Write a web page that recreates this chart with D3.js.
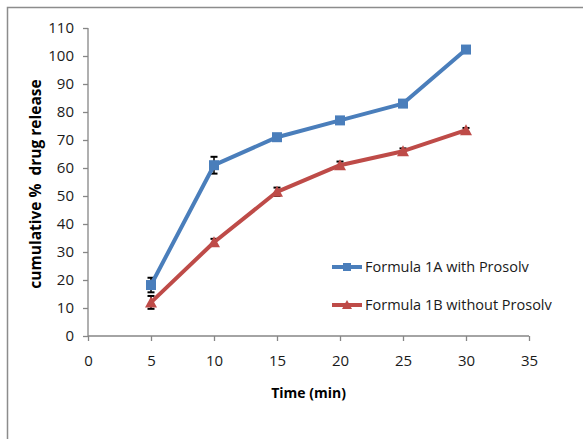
<!DOCTYPE html>
<html>
<head>
<meta charset="utf-8">
<script src="https://cdn.jsdelivr.net/npm/d3@7"></script>
<style>
  body { margin: 0; background: #fff; }
  text { font-family: "Open Sans", sans-serif; }
</style>
</head>
<body>
<div id="chart"></div>
<script>
// data
var times = [5, 10, 15, 20, 25, 30];
var withProsolv = [18.2, 61, 71, 77, 83, 102.3];
var withProsolvErr = [2.6, 3, 0.5, 0.5, 0.5, 0.5];
var withoutProsolv = [12, 33.5, 51.5, 61, 66, 73.5];
var withoutProsolvErr = [2.3, 1.2, 1.5, 1.3, 1, 0.8];
var seriesNames = ["Formula 1A with Prosolv", "Formula 1B without Prosolv"];
var xTicks = [0, 5, 10, 15, 20, 25, 30, 35];
var yTicks = [0, 10, 20, 30, 40, 50, 60, 70, 80, 90, 100, 110];

var width = 583, height = 439;
var svg = d3.select("#chart").append("svg")
  .attr("width", width).attr("height", height);

// outer chart frame (runs off the right and bottom edges)
svg.append("rect")
  .attr("x", 7.5).attr("y", 7.5)
  .attr("width", 600).attr("height", 460)
  .attr("fill", "none").attr("stroke", "#8c8c8c").attr("stroke-width", 1.5);

var x = d3.scaleLinear().domain([0, 35]).range([88, 529]);
var y = d3.scaleLinear().domain([0, 110]).range([336, 28]);

var axisColor = "#868686";

// y axis
var yAxis = svg.append("g")
  .attr("transform", "translate(" + x(0) + ",0)")
  .call(d3.axisLeft(y).tickValues(yTicks).tickSize(5).tickPadding(9));
// x axis
var xAxis = svg.append("g")
  .attr("transform", "translate(0," + y(0) + ")")
  .call(d3.axisBottom(x).tickValues(xTicks).tickSize(5).tickPadding(14));

[xAxis, yAxis].forEach(function(a) {
  a.selectAll("path, line").attr("stroke", axisColor).attr("stroke-width", 1.3);
  a.selectAll("text").attr("fill", "#1a1a1a").style("font-size", "15px");
});
xAxis.select(".domain").attr("d", "M" + x(0) + ",0H" + x(35));
yAxis.select(".domain").attr("d", "M0," + y(0) + "V" + y(110));

// axis titles
svg.append("text")
  .attr("x", x(17.5)).attr("y", 398)
  .attr("text-anchor", "middle")
  .style("font-size", "14px").style("font-weight", "bold")
  .text("Time (min)");

svg.append("text")
  .attr("transform", "translate(41,184) rotate(-90)")
  .attr("text-anchor", "middle")
  .style("font-size", "15.5px").style("font-weight", "bold")
  .text("cumulative %\u00A0\u00A0drug release");

var series = [
  { name: seriesNames[0], vals: withProsolv, err: withProsolvErr, color: "#4a7ebb", shape: "square" },
  { name: seriesNames[1], vals: withoutProsolv, err: withoutProsolvErr, color: "#be4b48", shape: "triangle" }
];

var line = d3.line()
  .x(function(d) { return x(d.t); })
  .y(function(d) { return y(d.v); });

function marker(g, shape, color) {
  if (shape === "square") {
    g.append("rect").attr("x", -5).attr("y", -5).attr("width", 10).attr("height", 10)
      .attr("fill", color);
  } else {
    g.append("path").attr("d", "M0,-6L6,5L-6,5Z").attr("fill", color);
  }
}

series.forEach(function(s) {
  var pts = times.map(function(t, i) { return { t: t, v: s.vals[i], e: s.err[i] }; });

  // error bars
  var eb = svg.append("g");
  pts.forEach(function(d) {
    eb.append("line")
      .attr("x1", x(d.t)).attr("x2", x(d.t))
      .attr("y1", y(d.v - d.e)).attr("y2", y(d.v + d.e))
      .attr("stroke", "#000").attr("stroke-width", 1.5);
    [d.v - d.e, d.v + d.e].forEach(function(v) {
      eb.append("line")
        .attr("x1", x(d.t) - 3.5).attr("x2", x(d.t) + 3.5)
        .attr("y1", y(v)).attr("y2", y(v))
        .attr("stroke", "#000").attr("stroke-width", 2);
    });
  });

  svg.append("path")
    .datum(pts)
    .attr("d", line)
    .attr("fill", "none")
    .attr("stroke", s.color)
    .attr("stroke-width", 4)
    .attr("stroke-linejoin", "round");

  pts.forEach(function(d) {
    var g = svg.append("g").attr("transform", "translate(" + x(d.t) + "," + y(d.v) + ")");
    marker(g, s.shape, s.color);
  });
});

// legend
var legend = svg.append("g");
series.forEach(function(s, i) {
  var ly = 267 + i * 38;
  legend.append("line")
    .attr("x1", 332).attr("x2", 362).attr("y1", ly).attr("y2", ly)
    .attr("stroke", s.color).attr("stroke-width", 4);
  var g = legend.append("g").attr("transform", "translate(347," + ly + ")");
  if (s.shape === "square") {
    g.append("rect").attr("x", -4).attr("y", -4).attr("width", 8).attr("height", 8).attr("fill", s.color);
  } else {
    g.append("path").attr("d", "M0,-5L5,4L-5,4Z").attr("fill", s.color);
  }
  legend.append("text")
    .attr("x", 365).attr("y", ly + 5)
    .style("font-size", "14.5px")
    .attr("fill", "#1a1a1a")
    .text(s.name);
});
</script>
</body>
</html>
